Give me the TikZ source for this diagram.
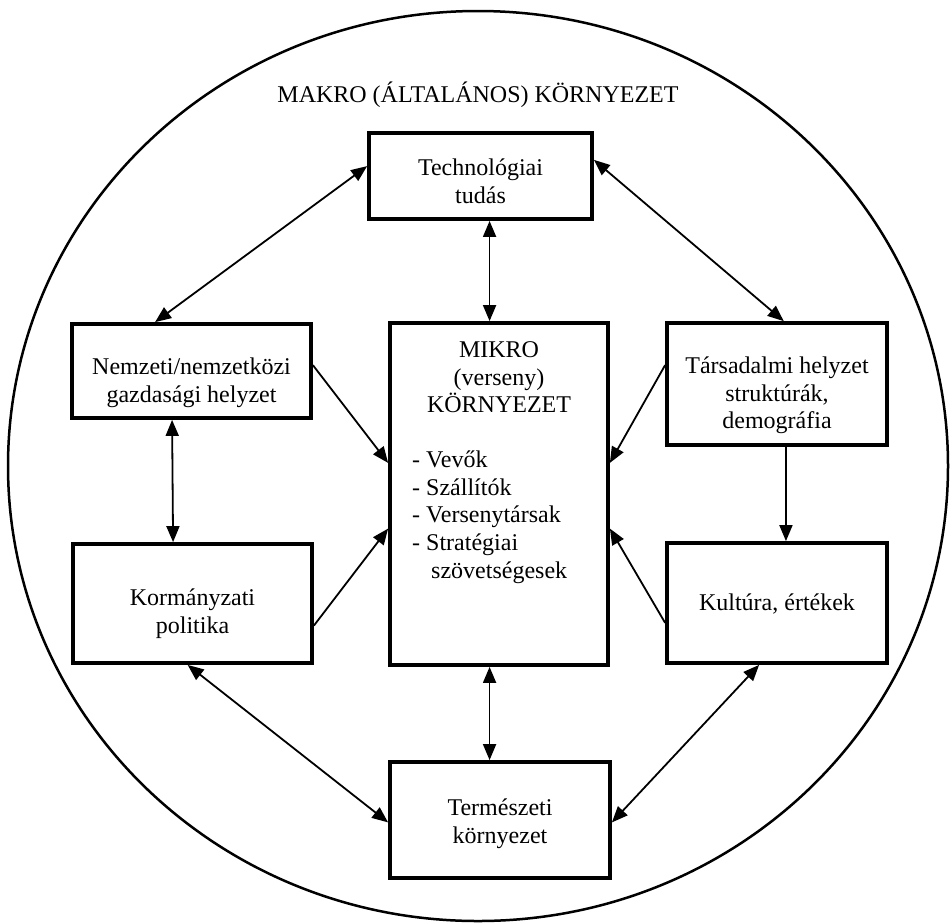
\documentclass[tikz,border=0pt]{standalone}
\usepackage{fontspec}
\setmainfont{Liberation Serif}
\usetikzlibrary{arrows.meta,calc}
% invisible rule fixing the height of a first text line
\newcommand{\topline}{\rule{0pt}{22pt}}
\begin{document}
\begin{tikzpicture}[x=1pt,y=-1pt,
  box/.style={draw,line width=3.8pt,inner sep=0pt},
  txt/.style={inner sep=0pt,anchor=north,align=center,
              font=\fontsize{24}{27.8}\selectfont},
  both/.style={line width=1.8pt,{Triangle[length=16pt,width=13pt]}-{Triangle[length=16pt,width=13pt]}},
  one/.style={line width=1.8pt,-{Triangle[length=16pt,width=13pt]}}]
\useasboundingbox (0,0) rectangle (952,922);

% outer (macro) environment
\draw[line width=2.5pt] (478,466) ellipse [x radius=470pt, y radius=455pt];
\node[txt] (makro) at (478,80) {\topline MAKRO (ÁLTALÁNOS) KÖRNYEZET};

% factor boxes
\node[box,minimum width=223pt,minimum height=86pt]  (tech)  at (480.5,176) {};
\node[box,minimum width=239pt,minimum height=94pt]  (nem)   at (191.5,371) {};
\node[box,minimum width=220pt,minimum height=122pt] (tars)  at (777,384) {};
\node[box,minimum width=218pt,minimum height=342pt] (mikro) at (499,494) {};
\node[box,minimum width=239pt,minimum height=119pt] (korm)  at (192.5,603.5) {};
\node[box,minimum width=220pt,minimum height=120pt] (kult)  at (777,603) {};
\node[box,minimum width=220pt,minimum height=116pt] (term)  at (500,820) {};

% box texts
\node[txt] (techT) at (480.5,153) {\topline Technológiai\\tudás};
\node[txt] (nemT)  at (191.5,352) {\topline Nemzeti/nemzetközi\\gazdasági helyzet};
\node[txt] (tarsT) at (777,351)   {\topline Társadalmi helyzet\\struktúrák,\\demográfia};
\node[txt] (kormT) at (192.5,583) {\topline Kormányzati\\politika};
\node[txt] (kultT) at (777,588)   {\topline Kultúra, értékek};
\node[txt] (termT) at (500,793)   {\topline Természeti\\környezet};
\node[txt] (mhead) at (499,335)   {\topline MIKRO\\(verseny)\\KÖRNYEZET};
\node[txt,align=left,anchor=north west] (mlist) at (412,445)
  {\topline- Vevők\\- Szállítók\\- Versenytársak\\- Stratégiai\\\hspace*{19pt}szövetségesek};

% connectors
\coordinate (tv) at ($(tech.south west)!0.54!(tech.south east)$);
\draw[both] (tv) -- (tv |- mikro.north);
\draw[both] (mikro.south -| tv) -- (tv |- term.north);
\draw[both] ($(tech.north west)!0.39!(tech.south west)$) -- ($(nem.north west)!0.35!(nem.north east)$);
\draw[both] ($(tech.north east)!0.32!(tech.south east)$) -- ($(tars.north west)!0.53!(tars.north east)$);
\draw[both] ($(nem.south west)!0.42!(nem.south east)$) -- ($(korm.north west)!0.42!(korm.north east)$);
\draw[one]  ($(tars.south west)!0.54!(tars.south east)$) -- ($(kult.north west)!0.54!(kult.north east)$);
\draw[one]  ($(nem.north east)!0.44!(nem.south east)$) -- ($(mikro.north west)!0.41!(mikro.south west)$);
\draw[one]  ($(korm.north east)!0.68!(korm.south east)$) -- ($(mikro.north west)!0.6!(mikro.south west)$);
\draw[one]  ($(tars.north west)!0.35!(tars.south west)$) -- ($(mikro.north east)!0.41!(mikro.south east)$);
\draw[one]  ($(kult.north west)!0.66!(kult.south west)$) -- ($(mikro.north east)!0.6!(mikro.south east)$);
\draw[both] ($(korm.south west)!0.48!(korm.south east)$) -- ($(term.north west)!0.52!(term.south west)$);
\draw[both] ($(kult.south west)!0.42!(kult.south east)$) -- ($(term.north east)!0.52!(term.south east)$);
\end{tikzpicture}
\end{document}
